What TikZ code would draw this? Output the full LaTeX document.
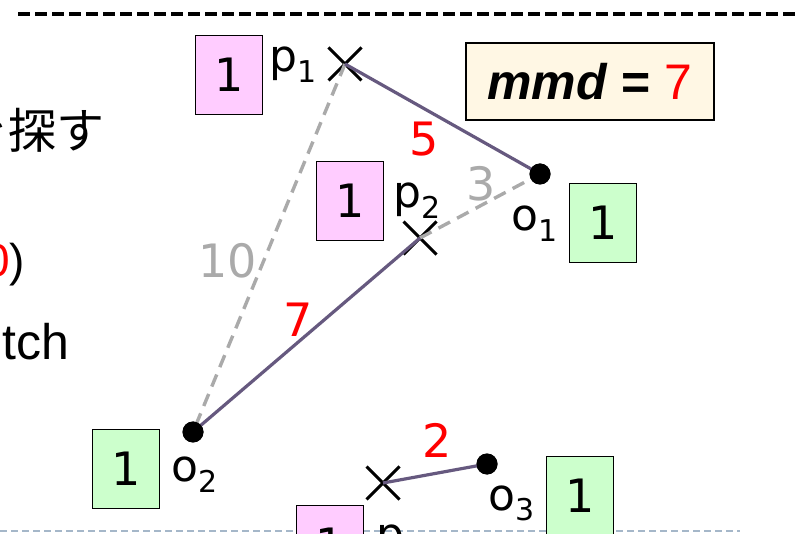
\documentclass[tikz,border=0pt]{standalone}
\usepackage{fontspec}
\setmainfont{DejaVu Sans}
\newfontfamily\cjkfont{Noto Sans CJK JP}
\newfontfamily\arialfont{Liberation Sans}
\usetikzlibrary{shapes.misc}
\definecolor{pinkfill}{HTML}{FFCCFF}
\definecolor{greenfill}{HTML}{CCFFCC}
\definecolor{creamfill}{HTML}{FFF7E4}
\definecolor{edgepurple}{HTML}{66597F}
\definecolor{lightgray}{HTML}{AAAAAA}
\definecolor{sepblue}{HTML}{A5B7C9}
\newcommand{\sub}[1]{\raisebox{-0.24em}{\fontsize{30}{30}\selectfont #1}}
\tikzset{
  x=1pt, y=-1pt,
  valbox/.style={draw=black, line width=1.3pt, minimum width=67pt, minimum height=79pt, inner sep=0pt, font=\fontsize{46}{46}\selectfont},
  pbox/.style={valbox, fill=pinkfill},
  gbox/.style={valbox, fill=greenfill},
  ptmark/.style={cross out, draw=black, line width=3pt, minimum size=30pt, inner sep=0pt},
  objdot/.style={circle, fill=black, minimum size=21pt, inner sep=0pt},
  lbl/.style={anchor=base west, inner sep=0pt, font=\fontsize{44}{44}\selectfont},
  numlbl/.style={inner sep=0pt, font=\fontsize{46}{46}\selectfont},
  matchedge/.style={draw=edgepurple, line width=3.2pt},
  otheredge/.style={draw=lightgray, line width=3.4pt, dash pattern=on 13pt off 8pt},
}
\begin{document}
\begin{tikzpicture}
\useasboundingbox (0,0) rectangle (798,534);
% separators
\coordinate (topL) at (18,14);
\coordinate (topR) at (800,14);
\draw[line width=3.8pt, dash pattern=on 12pt off 5pt] (topL) -- (topR);
\coordinate (botL) at (0,531);
\coordinate (botR) at (740,531);
\draw[sepblue, line width=2.5pt, dash pattern=on 7pt off 4pt] (botL) -- (botR);
% left text (cut off)
\node[anchor=base west, inner sep=0pt, font=\cjkfont\fontsize{48}{48}\selectfont] (t1) at (-40,149) {を探す};
\node[anchor=base west, inner sep=0pt, font=\arialfont\fontsize{46}{46}\selectfont] (t2) at (-16,277) {\textcolor{red}{0})};
\node[anchor=base east, inner sep=0pt, font=\arialfont\fontsize{50}{50}\selectfont] (t3) at (69,360) {tch};
% points and objects
\node[ptmark] (p1) at (345,64) {};
\node[ptmark] (p2) at (420,238) {};
\node[ptmark] (p3) at (383,483) {};
\node[objdot] (o1) at (540,174) {};
\node[objdot] (o2) at (193,432) {};
\node[objdot] (o3) at (487,464) {};
% edges
\draw[otheredge] (p1.center) -- (o2.center);
\draw[otheredge] (p2.center) -- (o1.center);
\draw[matchedge] (p1.center) -- (o1.center);
\draw[matchedge] (p2.center) -- (o2.center);
\draw[matchedge] (p3.center) -- (o3.center);
% redraw dots on top
\node[objdot] at (o1) {};
\node[objdot] at (o2) {};
\node[objdot] at (o3) {};
% boxes
\node[pbox] (b1) at (229,75) {1};
\node[pbox] (b2) at (350,201) {1};
\node[pbox] (b3) at (330,545) {1};
\node[gbox] (g1) at (603,223) {1};
\node[gbox] (g2) at (126,469) {1};
\node[gbox] (g3) at (580,496) {1};
% labels
\node[lbl] (lp1) at (269,72) {p\sub{1}};
\node[lbl] (lp2) at (393,208) {p\sub{2}};
\node[lbl] (lp3) at (376,549) {p\sub{3}};
\node[lbl] (lo1) at (511,231) {o\sub{1}};
\node[lbl] (lo2) at (171,482) {o\sub{2}};
\node[lbl] (lo3) at (488,510) {o\sub{3}};
% distances
\node[numlbl, text=red] (d5) at (424,139) {5};
\node[numlbl, text=lightgray] (d3) at (481,184) {3};
\node[numlbl, text=lightgray] (d10) at (228,261) {10};
\node[numlbl, text=red] (d7) at (298,320) {7};
\node[numlbl, text=red] (d2) at (437,440) {2};
% mmd box
\node[draw=black, line width=1.3pt, fill=creamfill, minimum width=248pt, minimum height=77pt, inner sep=0pt, font=\arialfont\fontsize{50}{50}\selectfont] (mmd) at (590,81.5) {\textbf{\textit{mmd}} \textbf{=} \textcolor{red}{7}};
\end{tikzpicture}
\end{document}
